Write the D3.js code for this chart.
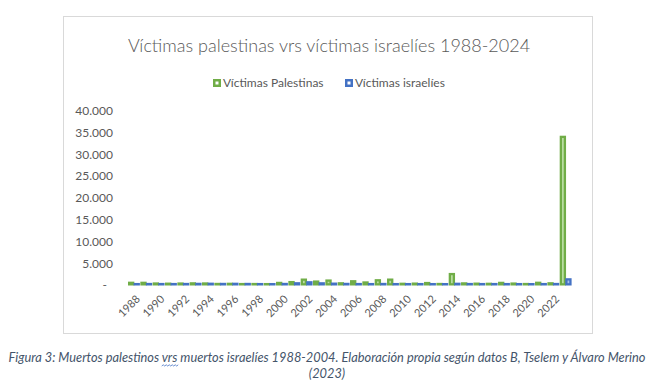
<!DOCTYPE html>
<html>
<head>
<meta charset="utf-8">
<script src="https://cdn.jsdelivr.net/npm/d3@7"></script>
<style>
  body { margin: 0; background: #fff; }
  text { font-family: Lato, "Open Sans", sans-serif; }
</style>
</head>
<body>
<script>
// datos
const years = d3.range(1988, 2024).map(String);
const palestinas = [310, 305, 145, 104, 138, 180, 152, 45, 74, 21, 28, 8, 282, 469, 1032, 588, 821, 190,
  660, 384, 887, 1034, 81, 118, 255, 36, 2314, 170, 108, 77, 290, 133, 30, 313, 190, 33800];
const israelies = [12, 31, 22, 19, 34, 61, 89, 46, 75, 41, 12, 4, 41, 192, 421, 185, 108, 51,
  23, 13, 35, 9, 8, 11, 7, 4, 78, 25, 16, 19, 14, 10, 3, 14, 31, 1100];
const seriesNames = ["Víctimas Palestinas", "Víctimas israelíes"];
const yTicks = [0, 5000, 10000, 15000, 20000, 25000, 30000, 35000, 40000];
const labelYears = years.filter((d, i) => i % 2 === 0);

const colors = ["#70AD47", "#4472C4"];
const inner = ["#b9dca2", "#a8bfe9"];

const W = 654, H = 384;
const svg = d3.select("body").append("svg")
  .attr("width", W)
  .attr("height", H);

// marco del gráfico
svg.append("rect")
  .attr("x", 63.5).attr("y", 16.5)
  .attr("width", 529).attr("height", 317)
  .attr("fill", "#fff")
  .attr("stroke", "#d9d9d9");

// título
svg.append("text")
  .attr("x", 329).attr("y", 52)
  .attr("text-anchor", "middle")
  .attr("fill", "#595959")
  .style("font-size", "18px")
  .style("font-weight", 300)
  .text("Víctimas palestinas vrs víctimas israelíes 1988-2024");

// escalas
const x0 = d3.scaleBand().domain(years).range([128.4, 571.2]).paddingInner(0.1).paddingOuter(0);
const x1 = d3.scaleBand().domain([0, 1]).range([0, x0.bandwidth()]);
const y = d3.scaleLinear().domain([0, 40000]).range([285, 110.7]);

const fmt = d3.formatLocale({ decimal: ",", thousands: ".", grouping: [3], currency: ["", ""] }).format(",");

// eje y
const yAxis = svg.append("g")
  .attr("transform", "translate(119,0)")
  .call(d3.axisLeft(y).tickValues(yTicks).tickSize(0).tickPadding(6)
    .tickFormat(d => d === 0 ? "-" : fmt(d)));
yAxis.select(".domain").remove();
yAxis.selectAll("text")
  .attr("fill", "#595959")
  .style("font-size", "12px")
  .style("font-family", "Lato, sans-serif")
  .attr("dx", d => d === 0 ? -6 : 0);

// barras
const rows = years.map((yr, i) => ({ year: yr, vals: [palestinas[i], israelies[i]] }));
const groups = svg.append("g").selectAll("g")
  .data(rows)
  .enter().append("g")
  .attr("transform", d => "translate(" + x0(d.year) + ",0)");

const bars = groups.selectAll("g")
  .data(d => d.vals.map((v, k) => ({ k: k, v: v })))
  .enter().append("g");

// borde de la barra: sobresale ~2px por arriba (como en Excel)
const ext = 2, edge = 2.3;
const barTop = d => y(d.v) - ext;
const barBot = y(0) + 0.5;
bars.append("rect")
  .attr("x", d => x1(d.k) - 0.4)
  .attr("width", x1.bandwidth() + 0.8)
  .attr("y", barTop)
  .attr("height", d => barBot - barTop(d))
  .attr("fill", d => colors[d.k]);

bars.filter(d => barBot - barTop(d) > edge * 2 + 0.8)
  .append("rect")
  .attr("x", d => x1(d.k) - 0.4 + edge)
  .attr("width", x1.bandwidth() + 0.8 - edge * 2)
  .attr("y", d => barTop(d) + edge)
  .attr("height", d => barBot - barTop(d) - edge * 2)
  .attr("fill", d => inner[d.k]);

// eje x
const xAxis = svg.append("g")
  .attr("transform", "translate(0,285)")
  .call(d3.axisBottom(x0).tickValues(labelYears).tickSize(0).tickPadding(0));
xAxis.select(".domain").remove();
xAxis.selectAll("text")
  .attr("fill", "#595959")
  .style("font-size", "11px")
  .style("font-family", "Lato, sans-serif")
  .attr("text-anchor", "end")
  .attr("transform", "translate(4,12) rotate(-45)")
  .attr("dy", "0.35em")
  .attr("y", 0);

// leyenda
const legX = [213, 345];
const legend = svg.append("g").selectAll("g")
  .data(seriesNames)
  .enter().append("g")
  .attr("transform", (d, i) => "translate(" + legX[i] + ",79)");
legend.append("rect")
  .attr("width", 8).attr("height", 8)
  .attr("fill", (d, i) => colors[i]);
legend.append("rect")
  .attr("x", 2.5).attr("y", 2.5)
  .attr("width", 3).attr("height", 3)
  .attr("fill", "#fff");
legend.append("text")
  .attr("x", 10).attr("y", 4)
  .attr("dy", "0.35em")
  .attr("fill", "#595959")
  .style("font-size", "12px")
  .text(d => d);

// pie de figura
const cap = svg.append("text")
  .attr("x", 327).attr("y", 362)
  .attr("text-anchor", "middle")
  .attr("fill", "#44546A")
  .style("font-size", "12.8px")
  .style("font-style", "italic");
cap.append("tspan").text("Figura 3: Muertos palestinos ");
const vrs = cap.append("tspan").text("vrs");
cap.append("tspan").text(" muertos israelíes 1988-2004. Elaboración propia según datos B, Tselem y Álvaro Merino");
svg.append("text")
  .attr("x", 327).attr("y", 378)
  .attr("text-anchor", "middle")
  .attr("fill", "#44546A")
  .style("font-size", "12.8px")
  .style("font-style", "italic")
  .text("(2023)");

// subrayado ondulado bajo "vrs"
const vn = vrs.node();
const vx0 = vn.getStartPositionOfChar(0).x;
const vx1 = vn.getEndPositionOfChar(2).x;
let p = "M" + vx0 + ",366";
for (let xx = vx0, k = 0; xx < vx1; xx += 1.5, k++) {
  p += "L" + (xx + 1.5) + "," + (k % 2 ? 366 : 364.8);
}
svg.append("path")
  .attr("d", p)
  .attr("fill", "none")
  .attr("stroke", "#4472C4")
  .attr("stroke-width", 0.8);
</script>
</body>
</html>
